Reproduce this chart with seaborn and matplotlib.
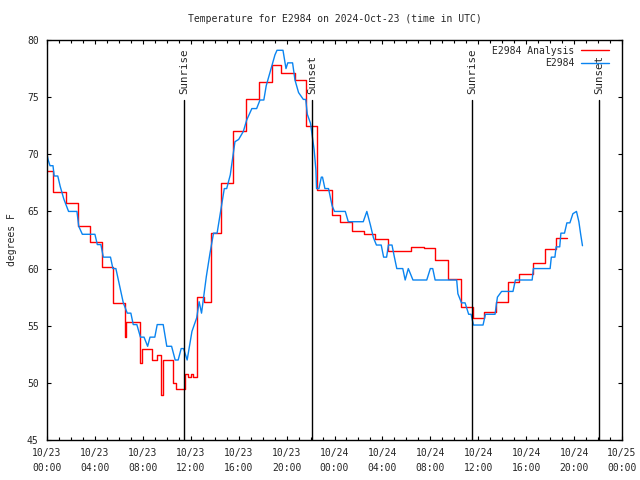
import pandas as pd
import matplotlib
matplotlib.use("Agg")
import matplotlib.pyplot as plt
import matplotlib.dates as mdates
import seaborn as sns

# Времена в часах от 2024-10-23 00:00 UTC
start = pd.Timestamp("2024-10-23 00:00")

obs_hours = [0.0, 0.1, 0.25, 0.5, 0.6, 0.9, 1.1, 1.4, 1.8, 2.5, 2.65, 2.95, 4.0, 4.2, 4.5,
             4.7, 5.3, 5.5, 5.75, 6.0, 6.37, 6.7, 7.0, 7.2, 7.5, 7.8, 8.1, 8.4, 8.6, 9.0,
             9.2, 9.7, 10.0, 10.4, 10.7, 10.95, 11.2, 11.4, 11.7, 12.1, 12.5, 12.7, 12.9,
             13.3, 13.6, 13.9, 14.2, 14.6, 14.8, 15.0, 15.3, 15.69, 16.0, 16.39, 16.67,
             17.1, 17.5, 17.78, 18.1, 18.3, 18.6, 19.03, 19.2, 19.7, 19.95, 20.1, 20.5,
             20.7, 21.0, 21.4, 21.6, 21.73, 22.0, 22.3, 22.45, 22.5, 22.7, 22.9, 23.0,
             23.2, 23.5, 23.8, 24.0, 24.9, 25.15, 26.4, 26.7, 27.0, 27.25, 27.5, 27.9,
             28.1, 28.35, 28.5, 28.8, 29.0, 29.2, 29.7, 29.9, 30.16, 30.55, 31.7, 32.0,
             32.2, 32.4, 34.2, 34.3, 34.6, 34.9, 35.2, 35.4, 35.6, 36.4, 36.6, 37.4, 37.6,
             37.95, 38.9, 39.1, 40.5, 40.6, 42.0, 42.1, 42.4, 42.5, 42.8, 42.9, 43.2,
             43.4, 43.65, 43.9, 44.2, 44.4, 44.55, 44.7]
obs_temp = [70.0, 69.5, 69.0, 69.0, 68.1, 68.1, 67.2, 66.1, 65.0, 65.0, 63.7, 63.0, 63.0, 62.1, 62.1,
            61.0, 61.0, 60.0, 60.0, 58.8, 57.0, 56.1, 56.1, 55.1, 55.1, 54.0, 54.0, 53.2, 54.0, 54.0,
            55.1, 55.1, 53.2, 53.2, 52.0, 52.0, 53.0, 53.0, 52.0, 54.5, 55.7, 57.1, 56.1,
            59.3, 61.3, 63.1, 63.1, 65.7, 67.0, 67.0, 68.2, 71.1, 71.3, 72.0, 73.0,
            74.0, 74.0, 74.75, 74.75, 76.0, 77.1, 78.7, 79.1, 79.1, 77.5, 78.0, 78.0,
            76.5, 75.4, 74.8, 74.8, 73.5, 72.7, 70.4, 68.6, 67.0, 67.0, 68.0, 68.0,
            67.0, 67.0, 65.5, 65.0, 65.0, 64.1, 64.1, 65.0, 63.8, 62.7, 62.06, 62.06,
            61.0, 61.0, 62.06, 62.06, 61.0, 60.0, 60.0, 59.0, 60.0, 59.0, 59.0, 60.0,
            60.0, 59.0, 59.0, 57.8, 57.0, 57.0, 56.0, 56.0, 55.06, 55.06, 56.0, 56.0, 57.5,
            58.0, 58.0, 59.0, 59.0, 60.0, 60.0, 61.0, 61.0, 61.9, 61.9, 63.1, 63.1,
            64.0, 64.0, 64.8, 65.0, 64.1, 63.0, 62.0]

# Анализ - ступенчатый ряд
ana_hours = [0.0, 0.5, 1.6, 2.55, 3.6, 4.6, 5.5, 6.5, 6.6, 7.8, 7.95, 8.8, 9.2, 9.55, 9.7,
             10.5, 10.8, 11.5, 11.8, 12.0, 12.2, 12.5, 13.1, 13.7, 14.5, 15.55, 16.6, 17.7,
             18.8, 19.5, 20.7, 21.6, 22.55, 23.8, 24.5, 25.45, 26.5, 27.4, 28.5, 30.4,
             31.5, 32.4, 33.5, 34.6, 35.55, 36.5, 37.45, 38.45, 39.4, 40.55, 41.6, 42.5, 43.4]
ana_temp = [68.5, 66.7, 65.7, 63.7, 62.3, 60.1, 57.0, 54.0, 55.3, 51.7, 53.0, 52.0, 52.4, 48.9, 52.0,
            50.0, 49.5, 50.8, 50.5, 50.8, 50.5, 57.5, 57.1, 63.1, 67.5, 72.06, 74.8, 76.35,
            77.8, 77.1, 76.5, 72.45, 66.9, 64.7, 64.1, 63.3, 63.0, 62.6, 61.5, 61.9,
            61.8, 60.75, 59.1, 56.6, 55.7, 56.2, 57.05, 58.8, 59.5, 60.5, 61.7, 62.7, 62.7]

sun_hours = [11.46, 22.15, 35.5, 46.1]
sun_labels = ["Sunrise", "Sunset", "Sunrise", "Sunset"]

obs = pd.DataFrame({"time": start + pd.to_timedelta(obs_hours, unit="h"), "temp": obs_temp})
ana = pd.DataFrame({"time": start + pd.to_timedelta(ana_hours, unit="h"), "temp": ana_temp})

sns.set_style("ticks")
plt.rcParams["font.family"] = ["DejaVu Sans Mono"]
plt.rcParams["font.size"] = 7

fig, ax = plt.subplots(figsize=(6.4, 4.8), dpi=100)
fig.subplots_adjust(left=47 / 640, right=622 / 640, bottom=40 / 480, top=440 / 480)

sns.lineplot(data=ana, x="time", y="temp", ax=ax, color="#ff0000", lw=1,
             drawstyle="steps-post", label="E2984 Analysis")
sns.lineplot(data=obs, x="time", y="temp", ax=ax, color="#0a84f0", lw=1, label="E2984")

# Восход / закат
for h, lab in zip(sun_hours, sun_labels):
    t = start + pd.Timedelta(hours=h)
    ax.axvline(t, ymin=0, ymax=0.85, color="black", lw=1)
    ax.text(t, 0.865, lab, transform=ax.get_xaxis_transform(), rotation=90,
            ha="center", va="bottom", fontsize=7.8)

ax.set_xlim(start, start + pd.Timedelta(hours=48))
ax.set_ylim(45, 80)
ax.set_yticks(range(45, 81, 5))
ax.xaxis.set_major_locator(mdates.HourLocator(byhour=range(0, 24, 4)))
ax.xaxis.set_minor_locator(mdates.HourLocator())
ax.xaxis.set_major_formatter(mdates.DateFormatter("%m/%d\n%H:%M"))
ax.tick_params(which="both", direction="in", top=True, right=True, color="black")
ax.tick_params(which="major", length=3.1, width=0.8, pad=6, labelsize=7)
ax.tick_params(which="minor", length=1.9, width=0.8)
for lbl in ax.get_xticklabels():
    lbl.set_linespacing(1.6)
for s in ax.spines.values():
    s.set_linewidth(1)
    s.set_color("black")

ax.set_xlabel("")
ax.set_ylabel("degrees F", labelpad=7)
ax.set_title("Temperature for E2984 on 2024-Oct-23 (time in UTC)", fontsize=7, pad=13)

ax.legend(loc="upper right", bbox_to_anchor=(0.988, 1.0), frameon=False,
          markerfirst=False, fontsize=7, handlelength=2.9, handletextpad=0.7,
          labelspacing=0.25, borderaxespad=0.3, borderpad=0.3)

plt.savefig("out.png", dpi=100)
